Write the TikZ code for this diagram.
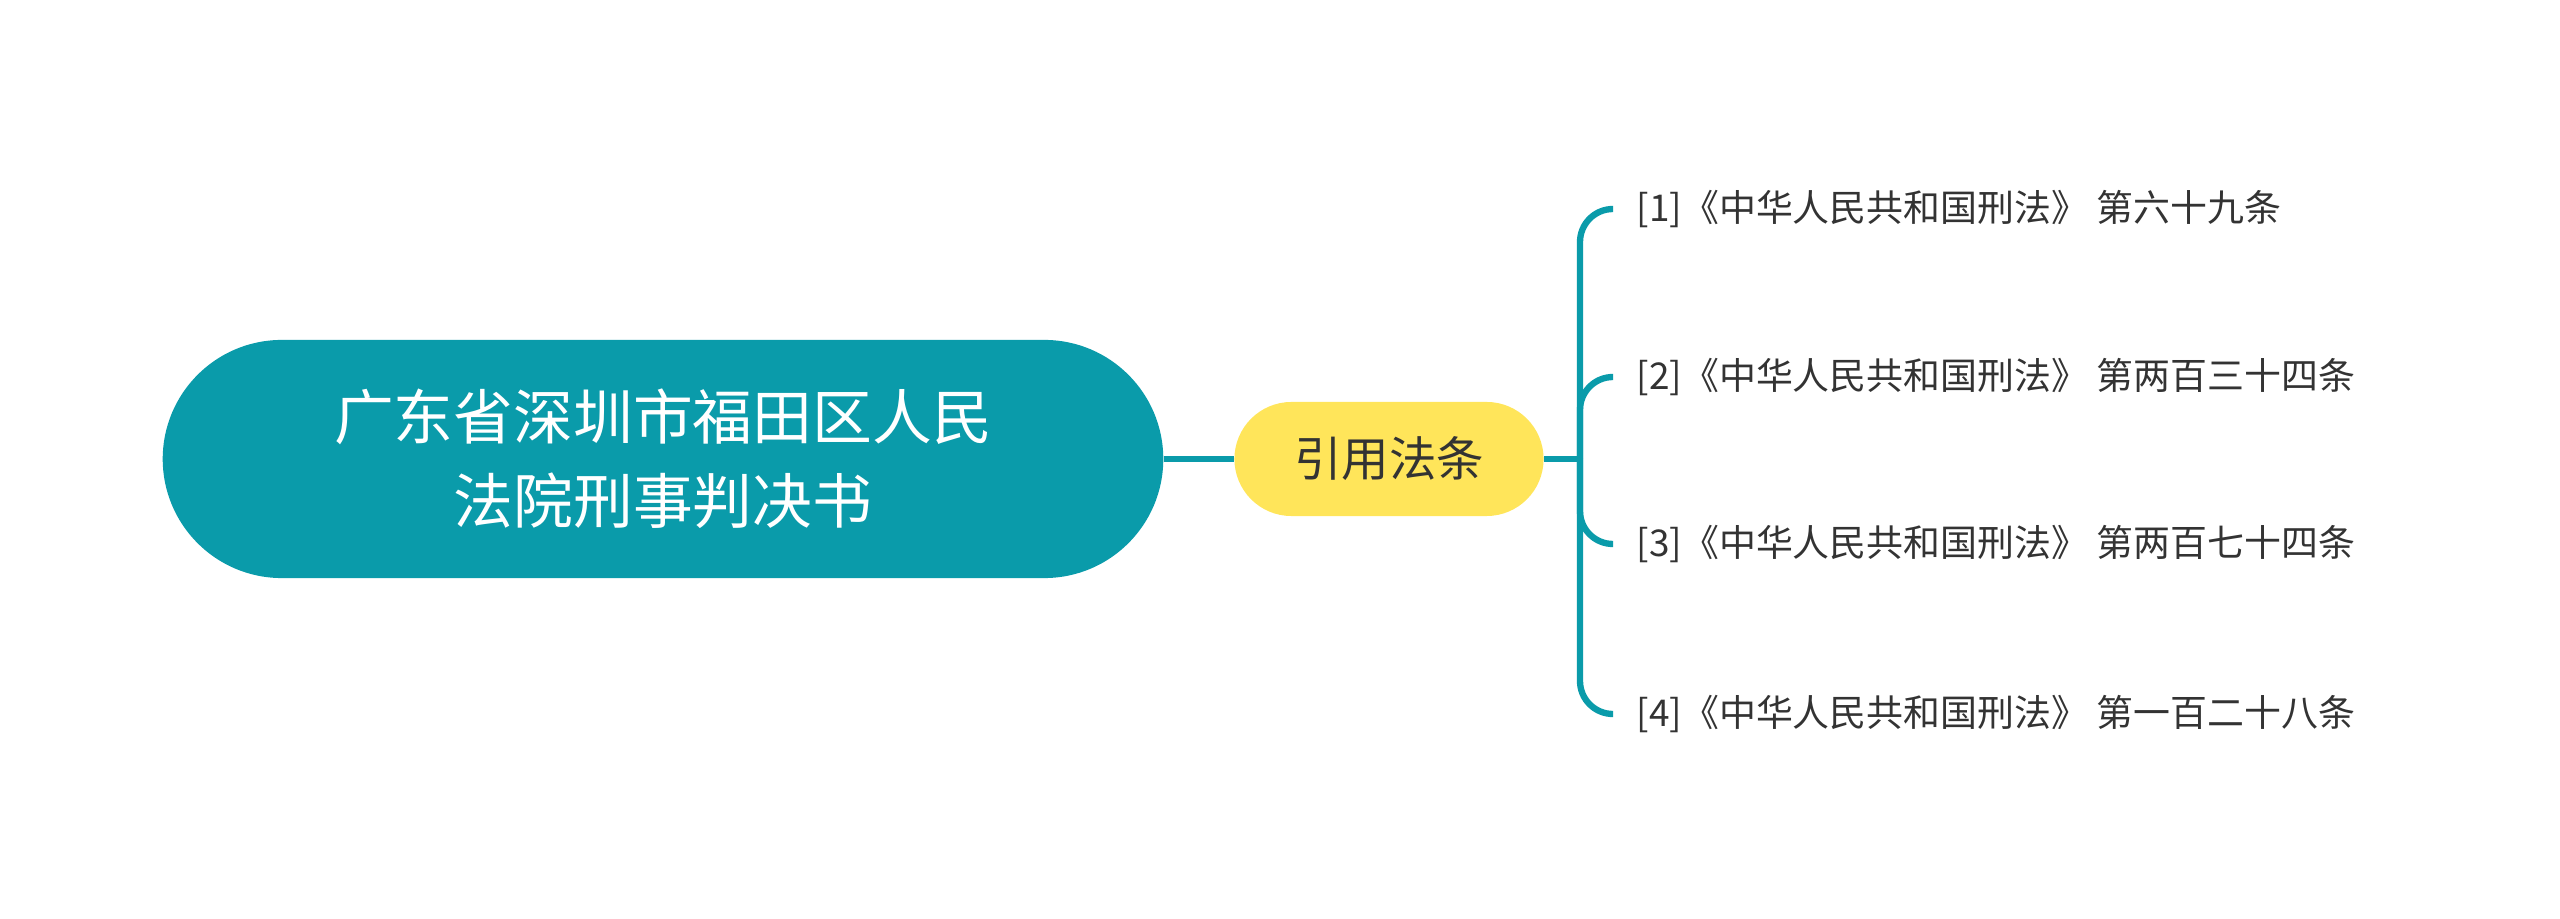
\documentclass[tikz,border=0pt]{standalone}
\usepackage{fontspec}
\setmainfont{Noto Sans CJK SC}
\definecolor{teal}{HTML}{0A9BAA}
\definecolor{yel}{HTML}{FFE55A}
\definecolor{txt}{HTML}{333333}
\begin{document}
\begin{tikzpicture}[x=0.01cm,y=-0.01cm,
  conn/.style={draw=teal,line width=1.8pt},
  leaf/.style={anchor=west,inner sep=0.23cm,text=txt,font=\fontsize{10.5pt}{13pt}\selectfont}]
\useasboundingbox (0,0) rectangle (2560,919);
\node[fill=teal,rounded corners=1.19cm,minimum width=10cm,minimum height=2.38cm,text=white,align=center,font=\fontsize{17pt}{24pt}\selectfont] (root) at (663,459) {广东省深圳市福田区人民\\法院刑事判决书};
\node[fill=yel,rounded corners=0.57cm,minimum width=3.09cm,minimum height=1.14cm,text=txt,font=\fontsize{13.5pt}{16pt}\selectfont] (mid) at (1389,459) {引用法条};
\draw[conn] (root.east) -- (mid.west);
\coordinate (b) at (1580,459);
\draw[conn] (mid.east) -- (b);
\node[leaf] (l1) at (1613,209) {[1]《中华人民共和国刑法》 第六十九条};
\node[leaf] (l2) at (1613,377) {[2]《中华人民共和国刑法》 第两百三十四条};
\node[leaf] (l3) at (1613,544) {[3]《中华人民共和国刑法》 第两百七十四条};
\node[leaf] (l4) at (1613,714) {[4]《中华人民共和国刑法》 第一百二十八条};
\foreach \l in {l1,l2,l3,l4}
  \draw[conn,rounded corners=0.33cm] (b) |- (\l.west);
\end{tikzpicture}
\end{document}
